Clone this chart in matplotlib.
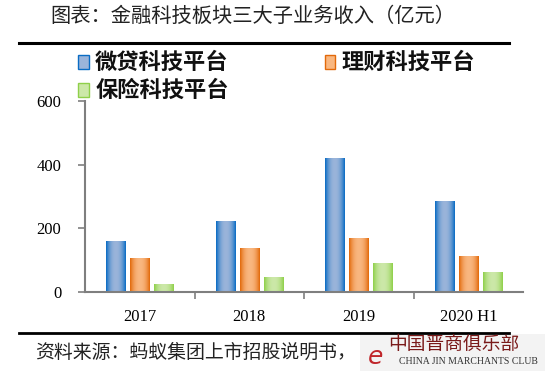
import numpy as np
import matplotlib
matplotlib.use("Agg")
import matplotlib.pyplot as plt
from matplotlib.colors import to_rgb
from matplotlib.lines import Line2D
from matplotlib.patches import Rectangle

plt.rcParams['font.family'] = ['Noto Sans CJK SC', 'DejaVu Sans']

# data
years = ['2017', '2018', '2019', '2020 H1']
series_names = ['微贷科技平台', '理财科技平台', '保险科技平台']
weidai = [160, 223, 418, 283]
licai = [104, 137, 169, 112]
baoxian = [22, 44, 88, 60]
yticks = [0, 200, 400, 600]

# (edge colour, centre colour) for the gradient bars
palettes = [('#0a6cc4', '#9ab4da'),
            ('#e2690a', '#f9b780'),
            ('#8fd04a', '#cce8a8')]

fig = plt.figure(figsize=(5.5, 3.8), dpi=100)
ax = fig.add_axes([0.1545, 0.2316, 0.797, 0.5026])

x = np.arange(len(years))
width = 0.175
step = 0.22


def gradient(edge, centre, n=40):
    e = np.array(to_rgb(edge))
    c = np.array(to_rgb(centre))
    t = np.abs(np.linspace(-1, 1, n)) ** 2.2
    cols = c[None, :] + (e - c)[None, :] * t[:, None]
    return cols[None, :, :]


for i, (vals, pal) in enumerate(zip([weidai, licai, baoxian], palettes)):
    bars = ax.bar(x + (i - 1) * step, vals, width, color='none', edgecolor='none')
    img = gradient(*pal)
    for r in bars:
        x0, y0, w, h = r.get_x(), r.get_y(), r.get_width(), r.get_height()
        ax.imshow(img, extent=[x0, x0 + w, y0, y0 + h], aspect='auto',
                  interpolation='bilinear', zorder=2)

ax.set_xlim(-0.5, len(years) - 0.5)
ax.set_ylim(0, 600)
ax.set_yticks(yticks)
ax.set_yticklabels([str(v) for v in yticks], family='Liberation Serif', fontsize=12)
ax.set_xticks(np.arange(len(years) - 1) + 0.5)
ax.set_xticklabels([])
ax.set_xticks(x, minor=True)
ax.set_xticklabels(years, minor=True, family='Liberation Serif', fontsize=12)
ax.tick_params(axis='x', which='minor', length=0, pad=12)
ax.tick_params(axis='x', which='major', length=5, width=1.2, color='#7f7f7f', direction='out')
ax.tick_params(axis='y', length=5, width=1.2, color='#7f7f7f', direction='out', pad=12)
for s in ['top', 'right']:
    ax.spines[s].set_visible(False)
for s in ['left', 'bottom']:
    ax.spines[s].set_color('#7f7f7f')
    ax.spines[s].set_linewidth(1.5)

# legend
fs = 16
leg_pos = [(0.142, 0.837), (0.59, 0.837), (0.142, 0.763)]
for name, pal, (lx, ly) in zip(series_names, palettes, leg_pos):
    fig.patches.append(Rectangle((lx, ly - 0.018), 0.019, 0.037, transform=fig.transFigure,
                                 facecolor=pal[1], edgecolor=pal[0], linewidth=1.0))
    fig.text(lx + 0.031, ly, name, fontsize=fs, va='center', ha='left',
             color='#111111', fontweight='bold')

# title and rules
fig.text(0.459, 0.957, '图表：金融科技板块三大子业务收入（亿元）', fontsize=14.6,
         ha='center', va='center', color='#222222')
fig.lines.append(Line2D([0.035, 0.925], [0.888, 0.888], transform=fig.transFigure,
                        color='black', linewidth=2.2))
fig.lines.append(Line2D([0.035, 0.925], [0.124, 0.124], transform=fig.transFigure,
                        color='black', linewidth=2.0))
fig.text(0.063, 0.073, '资料来源：蚂蚁集团上市招股说明书，', fontsize=13.6,
         ha='left', va='center', color='#222222')

# watermark
fig.patches.append(Rectangle((0.655, 0.025), 0.335, 0.095, transform=fig.transFigure,
                             facecolor='#f2f2f2', edgecolor='none', alpha=0.9))
fig.text(0.705, 0.094, '中国晋商俱乐部', fontsize=13.5, color='#7a1a1a',
         ha='left', va='center')
fig.text(0.668, 0.06, 'e', fontsize=18, color='#c0262b', ha='left', va='center',
         style='italic', family='DejaVu Sans')
fig.text(0.725, 0.05, 'CHINA JIN MARCHANTS CLUB', fontsize=7, color='#333333',
         ha='left', va='center', family='Liberation Serif')

fig.savefig('out.png', dpi=100)
